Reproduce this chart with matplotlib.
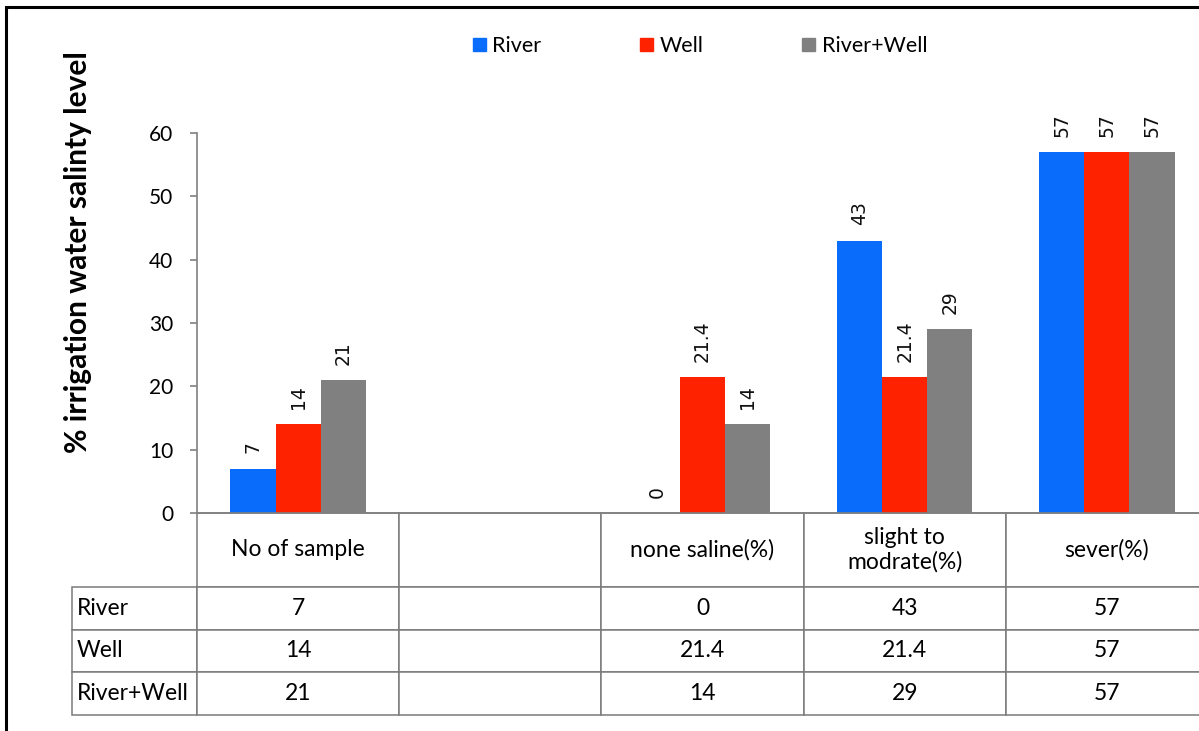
import numpy as np
import matplotlib
matplotlib.use("Agg")
import matplotlib.pyplot as plt
from matplotlib.patches import Patch, Rectangle

plt.rcParams['font.family'] = ['Lato', 'DejaVu Sans']

# data
categories = ['No of sample', '', 'none saline(%)', 'slight to\nmodrate(%)', 'sever(%)']
series = ['River', 'Well', 'River+Well']
river = [7, np.nan, 0, 43, 57]
well = [14, np.nan, 21.4, 21.4, 57]
river_well = [21, np.nan, 14, 29, 57]
colors = ['#0A6CFA', '#FF2200', '#808080']

values = [river, well, river_well]

fig = plt.figure(figsize=(11.99, 7.31), dpi=100)
ax = fig.add_axes([197/1199, 1 - 513/731, 1011/1199, 380/731])

x = np.arange(len(categories))
w = 0.223
for i, (name, vals, c) in enumerate(zip(series, values, colors)):
    pos = x + (i - 1) * w
    v = np.array(vals, dtype=float)
    ok = ~np.isnan(v)
    bars = ax.bar(pos[ok], v[ok], width=w, color=c, label=name)
    for b, val in zip(bars, v[ok]):
        ax.annotate('{:g}'.format(val), (b.get_x() + b.get_width()/2, b.get_height()),
                    xytext=(0, 11), textcoords='offset points', rotation=90,
                    ha='center', va='bottom', fontsize=13.5, family='DejaVu Sans',
                    color='#111111')

ax.set_xlim(-0.5, len(categories) - 0.5)
ax.set_ylim(0, 60)
ax.set_yticks(range(0, 61, 10))
ax.tick_params(axis='y', direction='out', length=5, width=1.2, color='#808080',
               pad=12, labelsize=15)
ax.tick_params(axis='x', bottom=False, labelbottom=False)
for s in ['top', 'right']:
    ax.spines[s].set_visible(False)
ax.spines['left'].set_color('#808080')
ax.spines['left'].set_linewidth(1.2)
ax.spines['bottom'].set_color('#808080')
ax.spines['bottom'].set_linewidth(1.2)
ax.set_ylabel('% irrigation water salinty level', fontsize=21.5, fontweight='bold')
ax.yaxis.set_label_coords(-0.104, 0.686)

# data table
cell_text = []
for vals in values:
    cell_text.append(['' if np.isnan(v) else '{:g}'.format(v) for v in vals])

tbl = ax.table(cellText=cell_text, colLabels=categories,
               cellLoc='center', colLoc='center',
               bbox=[0, -202/380, 1, 202/380])
for r, name in enumerate(series, start=1):
    cell = tbl.add_cell(r, -1, 0.2 * 125/202, 42.7/380, text=name, loc='left')
    cell.PAD = 0.04
tbl.auto_set_font_size(False)
tbl.set_fontsize(16.5)
for (r, c), cell in tbl.get_celld().items():
    cell.set_edgecolor('#7a7a7a')
    cell.set_linewidth(1.1)
    if r == 0:
        cell.set_height(74/380)
    else:
        cell.set_height(42.7/380)
    if c >= 0:
        cell.set_width(0.2)

# legend
handles = [Patch(color=c, label=n) for n, c in zip(series, colors)]
fig.legend(handles=handles, loc='center', bbox_to_anchor=(700/1199, 1 - 46/731),
           ncol=3, frameon=False, fontsize=15.5, handlelength=0.6, handleheight=0.6,
           handletextpad=0.3, columnspacing=4.6)

# outer frame
fig.patches.append(Rectangle((6/1199, -0.1), 1.2, 0.1 + 1 - 7/731, transform=fig.transFigure,
                             fill=False, edgecolor='black', linewidth=2.2))

fig.savefig('out.png', dpi=100)
